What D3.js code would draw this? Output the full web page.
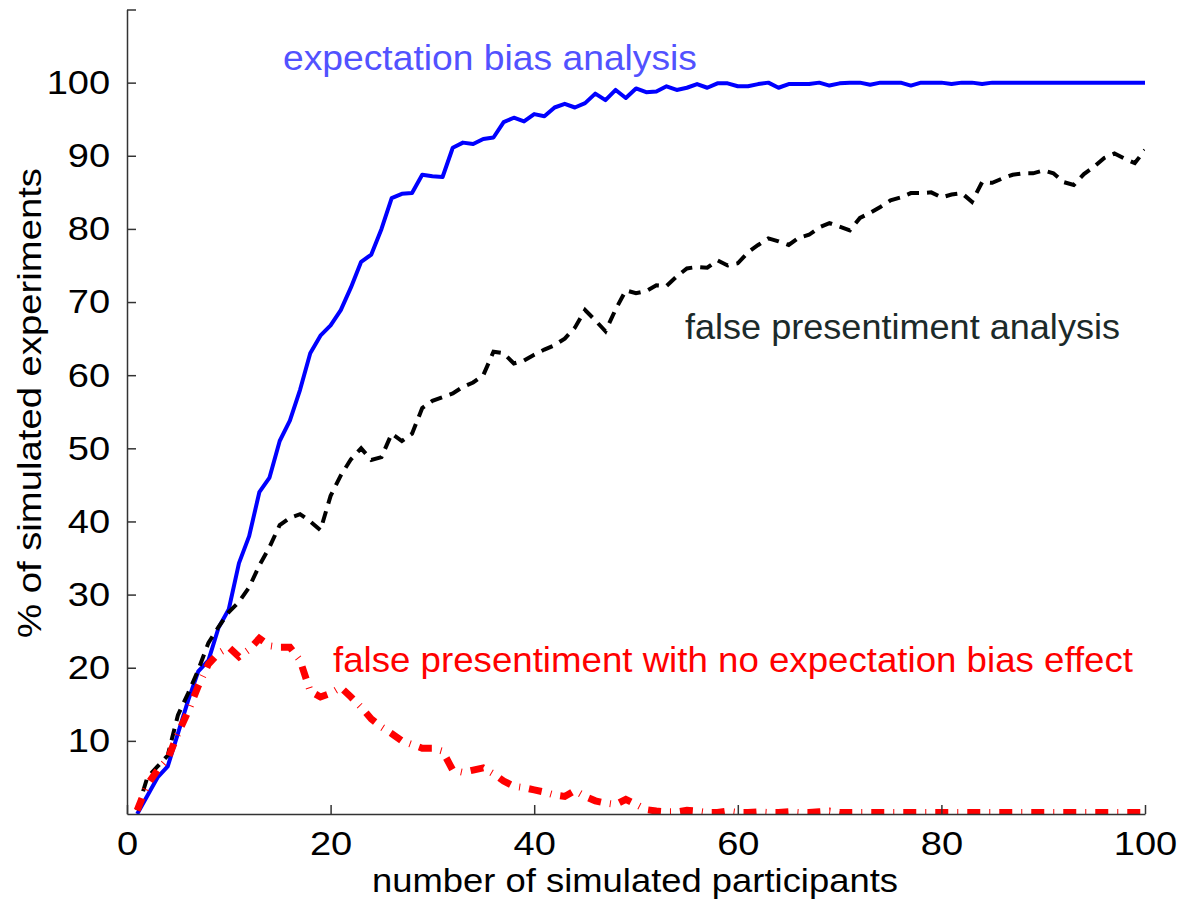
<!DOCTYPE html>
<html>
<head>
<meta charset="utf-8">
<script src="https://cdn.jsdelivr.net/npm/d3@7"></script>
<style>
  body { margin: 0; background: #fff; }
  svg text { font-family: "Liberation Sans", Arial, Helvetica, sans-serif; }
</style>
</head>
<body>
<div id="chart"></div>
<script>
// participants per simulated experiment (x axis)
const participants = d3.range(1, 101);

// % of simulated experiments
const expectationBias = [
  0, 2.5, 5, 6.5, 11, 15.5, 19.5, 21, 25.5, 28,
  34.3, 38, 44, 46, 51, 53.8, 58, 63, 65.4, 66.8,
  68.9, 72, 75.5, 76.5, 80, 84.2, 84.8, 84.9, 87.4, 87.2,
  87.1, 91.1, 91.8, 91.6, 92.3, 92.5, 94.6, 95.2, 94.7, 95.7,
  95.4, 96.6, 97.1, 96.6, 97.2, 98.5, 97.6, 99, 97.9, 99.2,
  98.7, 98.8, 99.5, 99, 99.3, 99.8, 99.3, 99.9, 99.9, 99.5,
  99.5, 99.8, 100, 99.3, 99.8, 99.8, 99.8, 100, 99.6, 99.9,
  100, 100, 99.7, 100, 100, 100, 99.6, 100, 100, 100,
  99.8, 100, 100, 99.8, 100, 100, 100, 100, 100, 100,
  100, 100, 100, 100, 100, 100, 100, 100, 100, 100
];

const falsePresentiment = [
  0.5, 5, 6.5, 8, 13.5, 16.5, 19.7, 23.4, 25.6, 27.6,
  29, 31, 34, 36.5, 39.5, 40.5, 41, 40, 38.8, 43.5,
  46.3, 48.5, 50, 48.4, 48.8, 52, 51, 52, 55.5, 56.5,
  57, 57.5, 58.4, 59, 60, 63.2, 63, 61.6, 62, 62.8,
  63.5, 64.1, 65, 66.5, 68.9, 67.5, 66, 69, 71.6, 71.2,
  71.5, 72.3, 72.2, 73.5, 74.6, 74.8, 74.7, 75.7, 75, 75.3,
  76.8, 77.8, 78.7, 78.3, 77.8, 78.8, 79.2, 80.2, 80.8, 80.3,
  79.8, 81.5, 82.2, 83, 83.9, 84.3, 84.9, 84.9, 85, 84.3,
  84.7, 84.9, 83.7, 86.4, 86.3, 86.9, 87.4, 87.6, 87.6, 88,
  87.6, 86.4, 86, 87.5, 88.5, 89.7, 90.3, 89.6, 89, 90.8
];

const noBiasEffect = [
  0.5, 4, 6, 7.5, 11, 14, 17.5, 20.5, 22, 22.8,
  21.5, 22.5, 24, 23, 22.8, 22.8, 21, 16.8, 16, 16.5,
  17.3, 16, 14.6, 13, 11.9, 11, 10, 9.5, 9, 9,
  8.6, 6, 5.7, 6, 6.3, 5.5, 4.5, 3.8, 3.6, 3.3,
  3, 2.6, 2.4, 3.2, 2.4, 1.8, 1.5, 1.3, 2, 1.3,
  0.6, 0.4, 0.3, 0.3, 0.5, 0.4, 0.2, 0.2, 0.4, 0.2,
  0.2, 0.3, 0.2, 0.2, 0.3, 0.2, 0.2, 0.3, 0.4, 0.2,
  0.2, 0.2, 0.2, 0.2, 0.2, 0.2, 0.2, 0.2, 0.2, 0.2,
  0.2, 0.2, 0.2, 0.2, 0.2, 0.2, 0.2, 0.2, 0.2, 0.2,
  0.2, 0.2, 0.2, 0.2, 0.2, 0.2, 0.2, 0.2, 0.2, 0.2
];

const xTicks = [0, 20, 40, 60, 80, 100];
const yTicks = [10, 20, 30, 40, 50, 60, 70, 80, 90, 100];

const width = 1180;
const height = 901;

const x = d3.scaleLinear().domain([0, 100]).range([127, 1145]);
const y = d3.scaleLinear().domain([0, 110]).range([814, 9.5]);

const svg = d3.select("#chart")
    .append("svg")
    .attr("width", width)
    .attr("height", height);

// zone de tracé (clip comme matlab)
svg.append("clipPath")
    .attr("id", "plot-clip")
    .append("rect")
    .attr("x", x(0))
    .attr("y", y(110))
    .attr("width", x(100) - x(0))
    .attr("height", y(0) - y(110));

const line = values => d3.line()
    .x((d, i) => x(participants[i]))
    .y(d => y(d))(values);

const plot = svg.append("g").attr("clip-path", "url(#plot-clip)");

plot.append("path")
    .attr("d", line(expectationBias))
    .attr("fill", "none")
    .attr("stroke", "#0000ff")
    .attr("stroke-width", 4)
    .attr("stroke-linejoin", "round");

plot.append("path")
    .attr("d", line(falsePresentiment))
    .attr("fill", "none")
    .attr("stroke", "#000")
    .attr("stroke-width", 4)
    .attr("stroke-dasharray", "12,8");

plot.append("path")
    .attr("d", line(noBiasEffect))
    .attr("fill", "none")
    .attr("stroke", "#ff0000")
    .attr("stroke-width", 7)
    .attr("stroke-dasharray", "13,9,1,9");

// axes
const xAxis = d3.axisBottom(x)
    .tickValues(xTicks)
    .tickSizeInner(-9)
    .tickSizeOuter(0)
    .tickPadding(17);

const yAxis = d3.axisLeft(y)
    .tickValues(yTicks.concat([110]))
    .tickFormat(d => d === 110 ? "" : d)
    .tickSizeInner(-9)
    .tickSizeOuter(0)
    .tickPadding(15);

const gx = svg.append("g")
    .attr("transform", `translate(0,${y(0)})`)
    .call(xAxis);

const gy = svg.append("g")
    .attr("transform", `translate(${x(0)},0)`)
    .call(yAxis);

[gx, gy].forEach(g => {
    g.select(".domain").attr("stroke", "#333").attr("stroke-width", 1.5);
    g.selectAll(".tick line").attr("stroke", "#333").attr("stroke-width", 1.5);
    g.selectAll(".tick text")
        .attr("fill", "#000")
        .attr("transform", "scale(1.12,1)")
        .style("font-size", "34px")
        .style("font-family", "'Liberation Sans', Arial, sans-serif");
});
gx.selectAll(".tick text").attr("dy", "0.71em");

// titres des axes
svg.append("text")
    .attr("x", 372)
    .attr("y", 892)
    .attr("textLength", 526)
    .attr("lengthAdjust", "spacingAndGlyphs")
    .style("font-size", "33px")
    .attr("fill", "#000")
    .text("number of simulated participants");

svg.append("text")
    .attr("transform", "translate(41,638) rotate(-90)")
    .attr("textLength", 470)
    .attr("lengthAdjust", "spacingAndGlyphs")
    .style("font-size", "34px")
    .attr("fill", "#000")
    .text("% of simulated experiments");

// étiquettes des courbes
svg.append("text")
    .attr("x", 283)
    .attr("y", 70)
    .attr("textLength", 414)
    .attr("lengthAdjust", "spacingAndGlyphs")
    .style("font-size", "35px")
    .attr("fill", "#5252ff")
    .text("expectation bias analysis");

svg.append("text")
    .attr("x", 685)
    .attr("y", 339)
    .attr("textLength", 435)
    .attr("lengthAdjust", "spacingAndGlyphs")
    .style("font-size", "35px")
    .attr("fill", "#1b2a2a")
    .text("false presentiment analysis");

svg.append("text")
    .attr("x", 333)
    .attr("y", 672)
    .attr("textLength", 800)
    .attr("lengthAdjust", "spacingAndGlyphs")
    .style("font-size", "35px")
    .attr("fill", "#ff0000")
    .text("false presentiment with no expectation bias effect");
</script>
</body>
</html>
